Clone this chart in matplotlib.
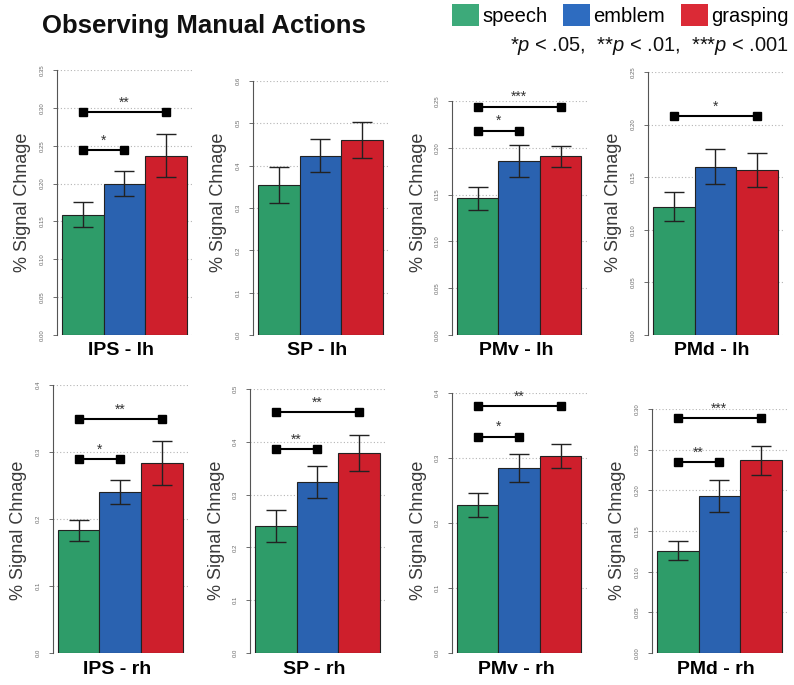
import matplotlib
matplotlib.use("Agg")
import matplotlib.pyplot as plt
from matplotlib.patches import Patch
import numpy as np

plt.rcParams['font.family'] = ['Liberation Sans', 'DejaVu Sans']
plt.rcParams['mathtext.fontset'] = 'custom'
plt.rcParams['mathtext.it'] = 'Liberation Sans:italic'
plt.rcParams['mathtext.rm'] = 'Liberation Sans'

# ---------------- data ----------------
conditions = ["speech", "emblem", "grasping"]
regions = ["IPS - lh", "SP - lh", "PMv - lh", "PMd - lh",
           "IPS - rh", "SP - rh", "PMv - rh", "PMd - rh"]
speech_mean = [0.159, 0.354, 0.146, 0.122, 0.183, 0.240, 0.228, 0.126]
emblem_mean = [0.200, 0.424, 0.186, 0.160, 0.240, 0.324, 0.285, 0.193]
grasping_mean = [0.237, 0.461, 0.191, 0.157, 0.284, 0.379, 0.303, 0.237]
speech_se = [0.017, 0.043, 0.012, 0.0135, 0.016, 0.030, 0.0185, 0.012]
emblem_se = [0.016, 0.040, 0.017, 0.0167, 0.018, 0.031, 0.0215, 0.0195]
grasping_se = [0.028, 0.043, 0.011, 0.016, 0.033, 0.034, 0.019, 0.018]
y_top = [0.35, 0.6, 0.25, 0.25, 0.4, 0.5, 0.4, 0.30]
y_step = [0.05, 0.1, 0.05, 0.05, 0.1, 0.1, 0.1, 0.05]
# significance brackets: (cond_a, cond_b, height, label)
brackets = [
    [(0, 1, 0.244, "*"), (0, 2, 0.294, "**")],
    [],
    [(0, 1, 0.218, "*"), (0, 2, 0.244, "***")],
    [(0, 2, 0.208, "*")],
    [(0, 1, 0.289, "*"), (0, 2, 0.349, "**")],
    [(0, 1, 0.386, "**"), (0, 2, 0.456, "**")],
    [(0, 1, 0.333, "*"), (0, 2, 0.3795, "**")],
    [(0, 1, 0.2345, "**"), (0, 2, 0.2886, "***")],
]

# ---------------- style / layout ----------------
bar_colors = ["#2E9C69", "#2A62B0", "#CE1F2C"]
legend_colors = ["#3DAA7A", "#2E6CC0", "#DB2A36"]
W, H = 794, 685
spine_x = [57, 253, 452, 648, 53, 250, 452, 652]
zero_y = [335, 335, 335, 335, 653, 653, 653, 653]
top_y = [70, 81, 101, 72, 385, 389, 393, 409]
bar_w_px = 41.5
pad_l_px = 5
pad_r_px = 6
ylabel_y = [202, 530]

fig = plt.figure(figsize=(W / 100, H / 100), dpi=100)

means = np.array([speech_mean, emblem_mean, grasping_mean]).T
ses = np.array([speech_se, emblem_se, grasping_se]).T

for k in range(8):
    axw = pad_l_px + 3 * bar_w_px + pad_r_px
    rect = [spine_x[k] / W, 1 - zero_y[k] / H, axw / W, (zero_y[k] - top_y[k]) / H]
    ax = fig.add_axes(rect)
    x = np.arange(3)
    ax.bar(x, means[k], width=1.0, color=bar_colors, edgecolor="#222222",
           linewidth=0.8, zorder=2)
    ax.errorbar(x, means[k], yerr=ses[k], fmt="none", ecolor="#222222",
                elinewidth=1.0, capsize=7, capthick=1.0, zorder=3)
    ax.set_xlim(-0.5 - pad_l_px / bar_w_px, 2.5 + pad_r_px / bar_w_px)
    ax.set_ylim(0, y_top[k])
    ticks = np.round(np.arange(0, y_top[k] + 1e-9, y_step[k]), 3)
    ax.set_yticks(ticks)
    fmt = "%.2f" if y_step[k] < 0.1 else "%.1f"
    ax.set_yticklabels([fmt % t for t in ticks], rotation=90, va="center",
                       fontsize=4.3, color="#666666")
    ax.tick_params(axis="y", length=3, width=0.6, color="#555555", pad=6)
    ax.set_xticks([])
    for s in ["top", "right", "bottom"]:
        ax.spines[s].set_visible(False)
    ax.spines["left"].set_color("#555555")
    ax.spines["left"].set_linewidth(0.8)
    ax.yaxis.grid(True, linestyle=(0, (1, 2)), color="#b5b5b5", linewidth=0.8)
    ax.set_axisbelow(True)
    for (a, b, h, lab) in brackets[k]:
        ax.plot([a, b], [h, h], color="black", linewidth=1.5, marker="s",
                markersize=6, clip_on=False, zorder=4)
        ax.annotate(lab, xy=((a + b) / 2, h), xytext=(0, 2),
                    textcoords="offset points", ha="center", va="bottom",
                    fontsize=10, color="#333333")
    # x label (region name)
    ax.annotate(regions[k], xy=(1, 0), xycoords="data", xytext=(-3, -16),
                textcoords="offset pixels", ha="center", va="center",
                fontsize=14, fontweight="bold", color="black",
                annotation_clip=False)
    # y label
    row = 0 if k < 4 else 1
    fig.text((spine_x[k] - 34) / W, 1 - ylabel_y[row] / H, "% Signal Chnage",
             rotation=90, ha="center", va="center", fontsize=13,
             color="#3a3a3a")

# title
fig.text(42 / W, 1 - 33 / H, "Observing Manual Actions", ha="left",
         va="baseline", fontsize=18.5, fontweight="bold", color="#111111")

# legend
handles = [Patch(facecolor=c, edgecolor="none") for c in legend_colors]
fig.legend(handles, conditions, loc="upper right",
           bbox_to_anchor=(793 / W, 1 - 0 / H), ncol=3, frameon=False,
           fontsize=14.5, handlelength=1.35, handleheight=1.3,
           handletextpad=0.15, columnspacing=0.8, borderaxespad=0.1,
           borderpad=0.1)

fig.text(789 / W, 1 - 51 / H,
         r"*$\mathit{p}$ < .05,  **$\mathit{p}$ < .01,  ***$\mathit{p}$ < .001",
         ha="right", va="baseline", fontsize=14.5, color="#111111")

fig.savefig("out.png", dpi=100)
